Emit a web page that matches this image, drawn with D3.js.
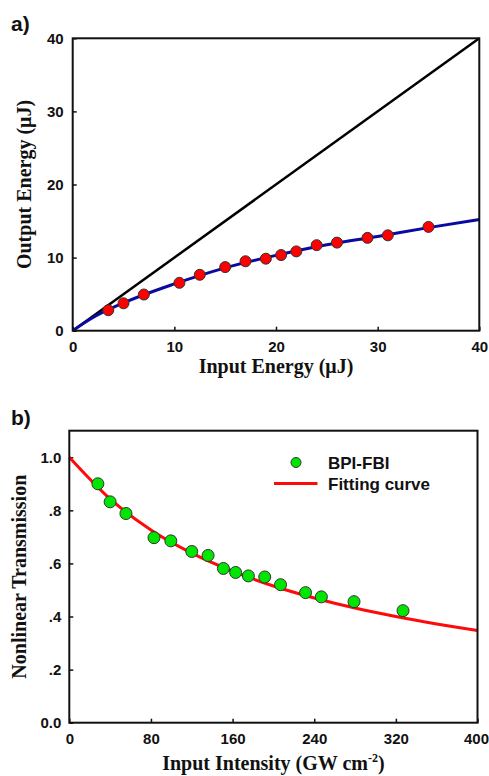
<!DOCTYPE html>
<html>
<head>
<meta charset="utf-8">
<script src="https://cdn.jsdelivr.net/npm/d3@7"></script>
<style>
  body { margin: 0; background: #fff; }
  svg { display: block; }
  .tick text { font-family: "Liberation Sans", Arial, sans-serif; font-weight: bold; font-size: 15px; fill: #111; }
  .title { font-family: "Liberation Serif", "Times New Roman", serif; font-weight: bold; font-size: 20px; fill: #111; }
  .panel { font-family: "Liberation Sans", Arial, sans-serif; font-weight: bold; font-size: 21px; fill: #111; }
  .legend { font-family: "Liberation Sans", Arial, sans-serif; font-weight: bold; font-size: 17px; fill: #111; }
</style>
</head>
<body>
<div id="chart"></div>
<script>
// panel a) energies (uJ)
const inputEnergy  = [3.5, 5.0, 7.0, 10.5, 12.5, 15.0, 17.0, 19.0, 20.5, 22.0, 24.0, 26.0, 29.0, 31.0, 35.0];
const outputEnergy = [2.8, 3.75, 4.95, 6.55, 7.65, 8.7, 9.5, 9.85, 10.35, 10.85, 11.7, 12.05, 12.7, 13.05, 14.2];
const fitEnergyX = [0, 2, 5, 10, 15, 20, 25, 30, 35, 40];
const fitEnergyY = [0, 1.8, 3.8, 6.4, 8.6, 10.3, 11.75, 12.9, 14.1, 15.2];
const linearX = [0, 40];
const linearY = [0, 40];
const energyTicks = [0, 10, 20, 30, 40];

// panel b) transmission
const intensity    = [28, 40, 55.5, 83, 99.5, 120, 136, 151, 163, 175.5, 191.5, 207, 231.5, 247, 279, 327];
const transmission = [0.900, 0.832, 0.788, 0.697, 0.685, 0.645, 0.630, 0.581, 0.566, 0.553, 0.549, 0.520, 0.490, 0.474, 0.456, 0.422];
const fitIntensity = [0, 40, 80, 120, 160, 200, 240, 280, 320, 360, 400];
const fitTransmission = [1.0, 0.843, 0.726, 0.639, 0.571, 0.515, 0.470, 0.432, 0.400, 0.372, 0.347];
const intensityTicks = [0, 80, 160, 240, 320, 400];
const transTicks = [0, 0.2, 0.4, 0.6, 0.8, 1.0];
const transTickLabels = ['0.0', '.2', '.4', '.6', '.8', '1.0'];

const W = 489, H = 776;
const svg = d3.select('#chart').append('svg').attr('width', W).attr('height', H);

function frame(g, x, y) {
  g.append('rect')
    .attr('x', x.range()[0]).attr('y', y.range()[1])
    .attr('width', x.range()[1] - x.range()[0])
    .attr('height', y.range()[0] - y.range()[1])
    .attr('fill', 'none').attr('stroke', '#111').attr('stroke-width', 2);
}

function axes(g, x, y, xt, yt, yfmt, ypad) {
  const xg = g.append('g')
    .attr('transform', `translate(0,${y.range()[0]})`)
    .call(d3.axisBottom(x).tickValues(xt).tickSizeInner(-4).tickSizeOuter(0).tickPadding(11).tickFormat(d3.format('d')))
    .call(s => s.select('.domain').remove())
    .call(s => s.selectAll('line').attr('stroke', '#111').attr('stroke-width', 1.5));
  g.append('g')
    .attr('transform', `translate(${x.range()[0]},0)`)
    .call(d3.axisLeft(y).tickValues(yt).tickSizeInner(-4).tickSizeOuter(0).tickPadding(ypad).tickFormat(yfmt))
    .call(s => s.select('.domain').remove())
    .call(s => s.selectAll('line').attr('stroke', '#111').attr('stroke-width', 1.5));
  return xg;
}

// ---------- panel a ----------
const xa = d3.scaleLinear().domain([0, 40]).range([72.7, 479.3]);
const ya = d3.scaleLinear().domain([0, 40]).range([330.7, 38.3]);
const ga = svg.append('g');

axes(ga, xa, ya, energyTicks, energyTicks, d3.format('d'), 9);

const lineA = d3.line().x(d => xa(d[0])).y(d => ya(d[1]));
ga.append('path')
  .datum(d3.zip(linearX, linearY))
  .attr('d', lineA)
  .attr('fill', 'none').attr('stroke', '#000').attr('stroke-width', 2.5);
ga.append('path')
  .datum(d3.zip(fitEnergyX, fitEnergyY))
  .attr('d', lineA.curve(d3.curveMonotoneX))
  .attr('fill', 'none').attr('stroke', '#0a0aa0').attr('stroke-width', 3);
frame(ga, xa, ya);
ga.selectAll('circle.pt')
  .data(d3.zip(inputEnergy, outputEnergy))
  .enter().append('circle')
  .attr('class', 'pt')
  .attr('cx', d => xa(d[0])).attr('cy', d => ya(d[1]))
  .attr('r', 5.5)
  .attr('fill', '#ff0000').attr('stroke', '#333').attr('stroke-width', 1);

ga.append('text').attr('class', 'panel').attr('x', 11).attr('y', 31).text('a)');
ga.append('text').attr('class', 'title')
  .attr('x', (xa.range()[0] + xa.range()[1]) / 2).attr('y', 373)
  .attr('text-anchor', 'middle').text('Input Energy (\u03bcJ)');
ga.append('text').attr('class', 'title')
  .attr('transform', `translate(31,${(ya.range()[0] + ya.range()[1]) / 2}) rotate(-90)`)
  .attr('text-anchor', 'middle').text('Output Energy (\u03bcJ)');

// ---------- panel b ----------
const xb = d3.scaleLinear().domain([0, 400]).range([69.3, 477.5]);
const yb = d3.scaleLinear().domain([0, 1.1]).range([722.7, 430.7]);
const gb = svg.append('g');

const xAxisB = axes(gb, xb, yb, intensityTicks, transTicks, (d, i) => transTickLabels[i], 8);
// last label sits at the page edge, keep it inside
xAxisB.selectAll('.tick text').filter(d => d === 400).attr('text-anchor', 'end').attr('dx', 11);

const lineB = d3.line().x(d => xb(d[0])).y(d => yb(d[1])).curve(d3.curveMonotoneX);
gb.append('path')
  .datum(d3.zip(fitIntensity, fitTransmission))
  .attr('d', lineB)
  .attr('fill', 'none').attr('stroke', '#ff0a0a').attr('stroke-width', 3);
frame(gb, xb, yb);
gb.selectAll('circle.pt')
  .data(d3.zip(intensity, transmission))
  .enter().append('circle')
  .attr('class', 'pt')
  .attr('cx', d => xb(d[0])).attr('cy', d => yb(d[1]))
  .attr('r', 6)
  .attr('fill', '#00e600').attr('stroke', '#333').attr('stroke-width', 1);

// legend
gb.append('circle').attr('cx', 296).attr('cy', 462.5).attr('r', 5)
  .attr('fill', '#00e600').attr('stroke', '#333').attr('stroke-width', 1);
gb.append('text').attr('class', 'legend').attr('x', 328).attr('y', 468.5).text('BPI-FBI');
gb.append('line').attr('x1', 274).attr('x2', 317.5).attr('y1', 483.5).attr('y2', 483.5)
  .attr('stroke', '#ff0a0a').attr('stroke-width', 3);
gb.append('text').attr('class', 'legend').attr('x', 328).attr('y', 490).text('Fitting curve');

gb.append('text').attr('class', 'panel').attr('x', 11).attr('y', 425).text('b)');
const xt = gb.append('text').attr('class', 'title')
  .attr('x', (xb.range()[0] + xb.range()[1]) / 2).attr('y', 770)
  .attr('text-anchor', 'middle');
xt.append('tspan').text('Input Intensity (GW cm');
xt.append('tspan').attr('dy', -8).style('font-size', '12px').text('-2');
xt.append('tspan').attr('dy', 8).text(')');
gb.append('text').attr('class', 'title')
  .attr('transform', `translate(26,${(yb.range()[0] + yb.range()[1]) / 2}) rotate(-90)`)
  .attr('text-anchor', 'middle').text('Nonlinear Transmission');
</script>
</body>
</html>
